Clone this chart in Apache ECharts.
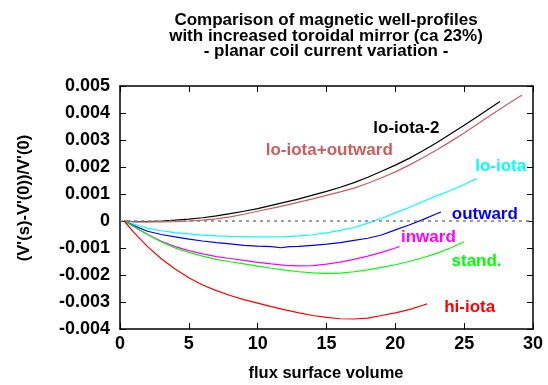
<!DOCTYPE html>
<html>
<head>
<meta charset="utf-8">
<script src="https://cdn.jsdelivr.net/npm/echarts@6/dist/echarts.min.js"></script>
<style>
  html, body { margin: 0; padding: 0; background: #fff; }
  #chart { width: 548px; height: 385px; }
</style>
</head>
<body>
<div id="chart"></div>
<script>
// Well-profile curves: flux surface volume vs (V'(s)-V'(0))/V'(0)
const loIota2X = [0.3, 1, 2, 3, 4, 5, 6, 7, 8, 9, 10, 11, 12, 13, 14, 15, 16, 17, 18, 19, 20, 21, 22, 23, 24, 25, 26, 27, 27.6];
const loIota2Y = [0, -0.00002, -0.00002, 0, 0.00003, 0.00007, 0.00012, 0.00019, 0.00027, 0.00036, 0.00046, 0.00058, 0.0007, 0.00082, 0.00096, 0.0011, 0.00125, 0.00142, 0.00162, 0.00184, 0.00207, 0.00232, 0.0026, 0.0029, 0.00322, 0.00355, 0.00388, 0.00422, 0.00443];

const loIotaOutX = [0.3, 1, 2, 3, 4, 5, 6, 7, 8, 9, 10, 11, 12, 13, 14, 15, 16, 17, 18, 19, 20, 21, 22, 23, 24, 25, 26, 27, 28, 29, 29.2];
const loIotaOutY = [0, -0.00002, -0.00003, -0.00003, -0.00002, 0, 0.00003, 0.00008, 0.00015, 0.00025, 0.00036, 0.00047, 0.00058, 0.0007, 0.00082, 0.00095, 0.00108, 0.00122, 0.0014, 0.0016, 0.00182, 0.00207, 0.00234, 0.00263, 0.00294, 0.00326, 0.0036, 0.00394, 0.00428, 0.0046, 0.00466];

const loIotaX = [0.3, 1, 2, 3, 4, 5, 6, 7, 8, 9, 10, 11, 12, 13, 14, 15, 16, 17, 18, 19, 20, 21, 22, 23, 24, 25, 25.9];
const loIotaY = [0, -0.00011, -0.00027, -0.00036, -0.00043, -0.00048, -0.00052, -0.00055, -0.00057, -0.00058, -0.00059, -0.00059, -0.00058, -0.00055, -0.00051, -0.00044, -0.00035, -0.00024, -0.00008, 0.0001, 0.0003, 0.0005, 0.00072, 0.00093, 0.00113, 0.00135, 0.00157];

const outwardX = [0.3, 1, 2, 3, 4, 5, 6, 7, 8, 9, 10, 11, 11.7, 12.3, 13, 14, 15, 16, 17, 18, 19, 20, 21, 22, 23, 23.3];
const outwardY = [0, -0.00017, -0.00038, -0.0005, -0.00059, -0.00067, -0.00074, -0.0008, -0.00085, -0.0009, -0.00093, -0.00095, -0.00099, -0.00095, -0.00094, -0.0009, -0.00086, -0.0008, -0.00072, -0.00064, -0.00052, -0.00033, -0.00015, 0.00005, 0.00027, 0.00033];

const inwardX = [0.3, 1, 2, 3, 4, 5, 6, 7, 8, 9, 10, 11, 12, 13, 14, 15, 16, 17, 18, 19, 20, 20.3];
const inwardY = [0, -0.0002, -0.0005, -0.00075, -0.00095, -0.0011, -0.00122, -0.00132, -0.00139, -0.00146, -0.00153, -0.00159, -0.00164, -0.00166, -0.00165, -0.0016, -0.00152, -0.00142, -0.0013, -0.00116, -0.001, -0.00095];

const standX = [0.3, 1, 2, 3, 4, 5, 6, 7, 8, 9, 10, 11, 12, 13, 14, 15, 16, 17, 18, 19, 20, 21, 22, 23, 24, 25];
const standY = [0, -0.0002, -0.0005, -0.00078, -0.001, -0.00116, -0.0013, -0.00142, -0.00151, -0.00159, -0.00167, -0.00175, -0.00182, -0.00188, -0.00192, -0.00194, -0.00193, -0.00188, -0.00181, -0.00172, -0.00162, -0.0015, -0.00136, -0.0012, -0.001, -0.00077];

const hiIotaX = [0.3, 1, 2, 3, 4, 5, 6, 7, 8, 9, 10, 11, 12, 13, 14, 15, 16, 17, 18, 19, 20, 21, 22, 22.3];
const hiIotaY = [0, -0.00042, -0.00095, -0.0014, -0.00178, -0.0021, -0.00237, -0.00258, -0.00276, -0.00291, -0.00304, -0.00317, -0.00329, -0.0034, -0.0035, -0.00357, -0.00362, -0.00363, -0.0036, -0.0035, -0.0034, -0.00328, -0.00312, -0.00307];

const curveNames = ['lo-iota-2', 'lo-iota+outward', 'lo-iota', 'outward', 'inward', 'stand.', 'hi-iota'];

const titleLines = [
  'Comparison of magnetic well-profiles',
  'with increased toroidal mirror (ca 23%)',
  '- planar coil current variation -'
];
const xAxisTitle = 'flux surface volume';
const yAxisTitle = "(V'(s)-V'(0))/V'(0)";

const FONT = "'Liberation Sans', Arial, sans-serif";

const curves = [
  { name: curveNames[0], x: loIota2X, y: loIota2Y, color: '#000000', at: [20.8, 0.00343] },
  { name: curveNames[1], x: loIotaOutX, y: loIotaOutY, color: '#cd5c5c', at: [15.2, 0.00262] },
  { name: curveNames[2], x: loIotaX, y: loIotaY, color: '#00ffff', at: [27.65, 0.00202] },
  { name: curveNames[3], x: outwardX, y: outwardY, color: '#0000ff', at: [26.5, 0.00024] },
  { name: curveNames[4], x: inwardX, y: inwardY, color: '#ff00ff', at: [22.4, -0.00062] },
  { name: curveNames[5], x: standX, y: standY, color: '#00ff00', at: [25.9, -0.00149] },
  { name: curveNames[6], x: hiIotaX, y: hiIotaY, color: '#ff0000', at: [25.4, -0.00321] }
];

const chart = echarts.init(document.getElementById('chart'), null, { renderer: 'canvas' });

const tickFmt = v => (Math.abs(v) < 1e-9 ? '0' : v.toFixed(3));

const baseAxis = {
  type: 'value',
  axisLine: { show: true, onZero: false, lineStyle: { color: '#000', width: 1.5 } },
  axisTick: { show: true, inside: true, length: 6, lineStyle: { color: '#000', width: 1 } },
  splitLine: { show: false }
};

const series = [{
  type: 'line',
  name: 'zero',
  data: [],
  silent: true,
  z: 1,
  markLine: {
    silent: true,
    symbol: 'none',
    label: { show: false },
    lineStyle: { color: '#808080', type: [3, 4], width: 1.6 },
    data: [{ yAxis: 0 }]
  }
}].concat(curves.map(c => ({
  type: 'line',
  name: c.name,
  data: c.x.map((xv, i) => [xv, c.y[i]]),
  showSymbol: false,
  z: 3,
  lineStyle: { color: c.color, width: 1.2 },
  itemStyle: { color: c.color }
})));

chart.setOption({
  animation: false,
  backgroundColor: '#fff',
  grid: { left: 120, right: 15, top: 86, bottom: 56 },
  xAxis: [
    Object.assign({}, baseAxis, {
      position: 'bottom', min: 0, max: 30, interval: 5,
      axisLabel: { color: '#000', fontFamily: FONT, fontWeight: 'bold', fontSize: 18, margin: 6 }
    }),
    Object.assign({}, baseAxis, {
      position: 'top', min: 0, max: 30, interval: 5,
      axisLabel: { show: false }
    })
  ],
  yAxis: [
    Object.assign({}, baseAxis, {
      position: 'left', min: -0.004, max: 0.005, interval: 0.001,
      axisLabel: { color: '#000', fontFamily: FONT, fontWeight: 'bold', fontSize: 18, margin: 10, formatter: tickFmt }
    }),
    Object.assign({}, baseAxis, {
      position: 'right', min: -0.004, max: 0.005, interval: 0.001,
      axisLabel: { show: false }
    })
  ],
  series: series
});

// Curve annotations placed in data coordinates
const annotations = curves.map(c => {
  const p = chart.convertToPixel({ xAxisIndex: 0, yAxisIndex: 0 }, c.at);
  return {
    type: 'text',
    x: p[0], y: p[1], z: 10,
    style: {
      text: c.name, fill: c.color,
      font: "bold 17px " + FONT,
      textAlign: 'center', textVerticalAlign: 'middle'
    }
  };
});

annotations.push({
  type: 'text', x: 326, y: 13, z: 10,
  style: {
    text: titleLines.join('\n'), fill: '#000',
    font: "bold 17px " + FONT, lineHeight: 15.5,
    textAlign: 'center', textVerticalAlign: 'top'
  }
});
annotations.push({
  type: 'text', x: 326, y: 373, z: 10,
  style: {
    text: xAxisTitle, fill: '#000',
    font: "bold 16.5px " + FONT,
    textAlign: 'center', textVerticalAlign: 'middle'
  }
});
annotations.push({
  type: 'text', x: 24, y: 198, z: 10, rotation: Math.PI / 2,
  style: {
    text: yAxisTitle, fill: '#000',
    font: "bold 16.5px " + FONT,
    textAlign: 'center', textVerticalAlign: 'middle'
  }
});

chart.setOption({ graphic: annotations });
</script>
</body>
</html>
